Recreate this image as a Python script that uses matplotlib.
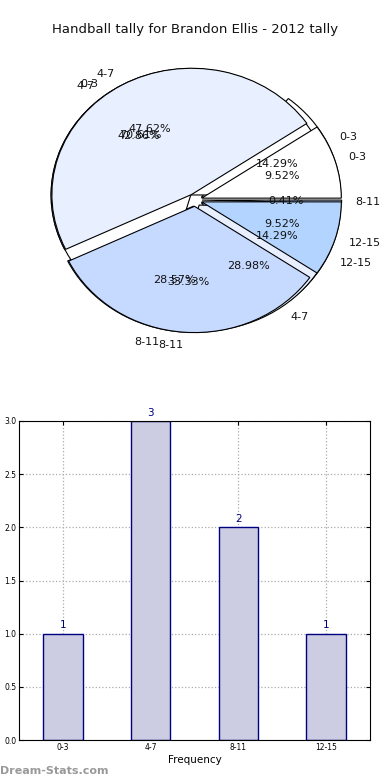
import matplotlib
matplotlib.use("Agg")
import matplotlib.pyplot as plt

# data
labels = ['0-3', '4-7', '8-11', '12-15']
counts = [1, 3, 2, 1]
weighted = [2, 10, 7, 2]
extra_labels = ['0-3', '4-7', '8-11']
extra_vals = [70.61, 28.98, 0.41]

colors = ['#ffffff', '#e8f0ff', '#c6d9ff', '#b3d4ff']

fig = plt.figure(figsize=(3.9, 7.8), dpi=100)

# pie charts (drawn on top of each other)
ax1 = fig.add_axes([6.5 / 390, 1 - 373 / 780, 377 / 390, 346 / 780])
shadow = dict(ox=-3.2, oy=-3.2, alpha=0.7)
for vals, labs in [(counts, labels), (extra_vals, extra_labels), (weighted, labels)]:
    ax1.pie(vals, labels=labs, colors=colors[:len(vals)], explode=[0.05] * len(vals),
            autopct='%1.2f%%', shadow=shadow, startangle=0,
            wedgeprops=dict(edgecolor='black', linewidth=0.8),
            textprops=dict(fontsize=8, color='#111111'))
ax1.set_aspect('auto')
ax1.set_xlim(-1.35, 1.35)
ax1.set_ylim(-1.37, 1.37)
ax1.axis('off')
fig.text(0.5, 1 - 30 / 780, 'Handball tally for Brandon Ellis - 2012 tally',
         ha='center', va='center', fontsize=9.5, color='#111111')

# bar chart
ax2 = fig.add_axes([19 / 390, 1 - 740 / 780, 351 / 390, 319 / 780])
x = range(len(labels))
ax2.bar(x, counts, width=0.45, color='#ccccE3', edgecolor='navy', linewidth=1)
for i, c in enumerate(counts):
    ax2.text(i, c + 0.03, str(c), ha='center', va='bottom', fontsize=7.5, color='navy')
ax2.set_xlim(-0.5, 3.5)
ax2.set_ylim(0, 3)
ax2.set_xticks(list(x))
ax2.set_xticklabels(labels)
ax2.set_yticks([0, 0.5, 1.0, 1.5, 2.0, 2.5, 3.0])
ax2.set_yticklabels(['0.0', '0.5', '1.0', '1.5', '2.0', '2.5', '3.0'])
ax2.tick_params(labelsize=5.5, direction='in', top=True, right=True, length=3, pad=2)
ax2.grid(True, linestyle=':', color='#aaaaaa', linewidth=0.9)
ax2.set_axisbelow(True)
ax2.set_xlabel('Frequency', fontsize=7.5, labelpad=2)

fig.text(0.0, 1 - 771 / 780, 'Dream-Stats.com', ha='left', va='center',
         fontsize=8, color='#999999', fontweight='bold')

fig.savefig('out.png', dpi=100)
